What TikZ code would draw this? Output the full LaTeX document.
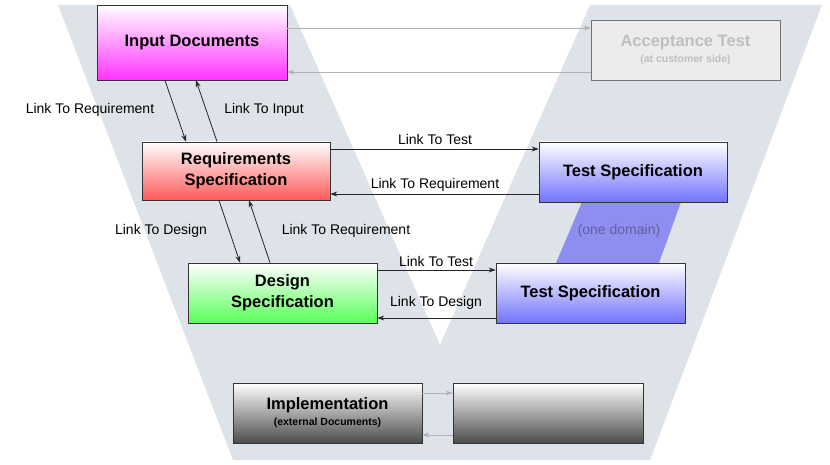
\documentclass[tikz,border=0pt]{standalone}
\usepackage{fontspec}
\usetikzlibrary{arrows.meta}
\setmainfont{Liberation Sans}
\definecolor{vcol}{HTML}{DDE3E8}
\definecolor{domcol}{HTML}{8E8EF0}
\begin{document}
\begin{tikzpicture}[x=1pt,y=-1pt,
  box/.style={draw=black!80,line width=0.7pt,minimum width=189pt,minimum height=60pt,align=center,font=\fontsize{16.5}{21}\selectfont\bfseries,inner sep=0pt},
  lnk/.style={font=\fontsize{14}{16}\selectfont},
  arr/.style={-{Stealth[length=7pt,width=5pt]},line width=0.8pt,draw=black!85},
  garr/.style={arr,draw=black!30}]
\useasboundingbox (0,0) rectangle (830,465);
\fill[white] (0,0) rectangle (830,465);
\fill[vcol] (58,5) -- (290,5) -- (440,345) -- (590,5) -- (822,5) -- (650,460) -- (233,460) -- cycle;
\fill[domcol] (582,202) -- (681,202) -- (659,263) -- (556,263) -- cycle;
\node[lnk,text=blue!25!gray] (dom) at (619,231) {(one domain)};
\node[box,minimum width=190pt,minimum height=75pt,top color=white,bottom color=magenta!80] (in) at (192,42.5) {Input Documents};
\node[box,draw=black!55,fill=gray!15,text=gray!50] (acc) at (685.5,50) {Acceptance Test\\[-5pt]{\fontsize{10.5}{12}\selectfont (at customer side)}};
\node[box,minimum width=188pt,minimum height=58pt,top color=white,bottom color=red!65] (req) at (236,171) {Requirements\\Specification};
\node[box,minimum width=188pt,top color=white,bottom color=blue!55] (ts1) at (633,172) {Test Specification};
\node[box,top color=white,bottom color=green!65] (des) at (282.5,293) {Design\\Specification};
\node[box,top color=white,bottom color=blue!55] (ts2) at (590.5,293) {Test Specification};
\node[box,top color=white,bottom color=black!70] (imp) at (327.5,413) {Implementation\\[-5pt]{\fontsize{10.5}{12}\selectfont (external Documents)}};
\node[box,minimum width=190pt,top color=white,bottom color=black!70] (blk) at (548,413) {};
\draw[garr] (in.east |- 0,28) -- (acc.west |- 0,28);
\draw[garr] (acc.west |- 0,72) -- (in.east |- 0,72);
\draw[arr] (in.south -| 165,0) -- (req.north -| 186,0);
\draw[arr] (req.north -| 217,0) -- (in.south -| 196,0);
\node[lnk] (l1) at (90,110) {Link To Requirement};
\node[lnk] (l2) at (264,110) {Link To Input};
\draw[arr] (req.east |- 0,149) -- (ts1.west |- 0,149);
\draw[arr] (ts1.west |- 0,194) -- (req.east |- 0,194);
\node[lnk] (l3) at (435,139) {Link To Test};
\node[lnk] (l4) at (435,185) {Link To Requirement};
\draw[arr] (req.south -| 219,0) -- (des.north -| 240,0);
\draw[arr] (des.north -| 270,0) -- (req.south -| 249,0);
\node[lnk] (l5) at (161,231) {Link To Design};
\node[lnk] (l6) at (346,231) {Link To Requirement};
\draw[arr] (des.east |- 0,270) -- (ts2.west |- 0,270);
\draw[arr] (ts2.west |- 0,318) -- (des.east |- 0,318);
\node[lnk] (l7) at (436,261) {Link To Test};
\node[lnk] (l8) at (436,303) {Link To Design};
\draw[garr] (imp.east |- 0,393) -- (blk.west |- 0,393);
\draw[garr] (blk.west |- 0,435) -- (imp.east |- 0,435);
\end{tikzpicture}
\end{document}
